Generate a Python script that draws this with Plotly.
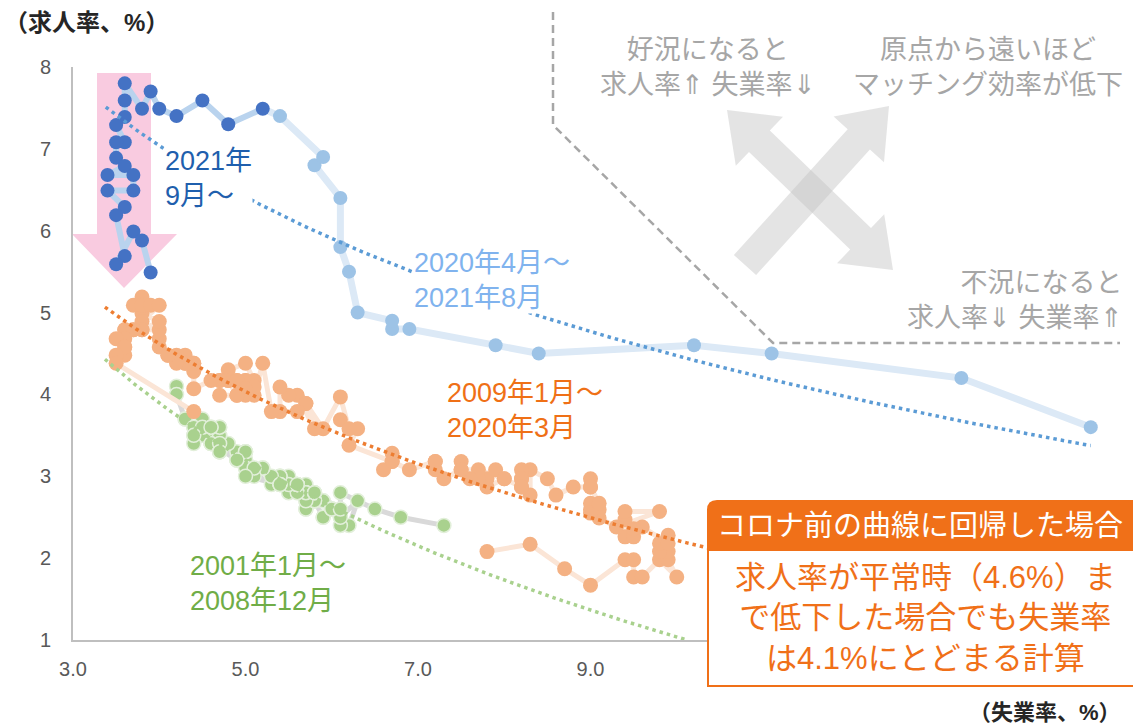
import numpy as np
import plotly.graph_objects as go

# ---------------- data: unemployment rate (x) vs job openings rate (y), % ----------------
# 2001/1 - 2008/12
green_x = [4.2, 4.2, 4.3, 4.4, 4.3, 4.5, 4.6, 4.9, 5.0, 5.3, 5.5, 5.7,
           5.7, 5.7, 5.7, 5.9, 5.8, 5.8, 5.8, 5.7, 5.7, 5.7, 5.9, 6.0,
           5.8, 5.9, 5.9, 6.0, 6.1, 6.3, 6.2, 6.1, 6.1, 6.0, 5.8, 5.7,
           5.7, 5.6, 5.8, 5.6, 5.6, 5.6, 5.5, 5.4, 5.4, 5.5, 5.4, 5.4,
           5.3, 5.4, 5.2, 5.2, 5.1, 5.0, 5.0, 4.9, 5.0, 5.0, 5.0, 4.9,
           4.7, 4.8, 4.7, 4.7, 4.6, 4.6, 4.7, 4.7, 4.5, 4.4, 4.5, 4.4,
           4.6, 4.5, 4.4, 4.5, 4.4, 4.6, 4.7, 4.6, 4.7, 4.7, 4.7, 5.0,
           5.0, 4.9, 5.1, 5.0, 5.4, 5.6, 5.8, 6.1, 6.1, 6.5, 6.8, 7.3]
green_y = [4.1, 4.0, 3.7, 3.6, 3.7, 3.5, 3.4, 3.2, 3.1, 2.9, 2.8, 2.8,
           2.9, 2.8, 2.7, 2.7, 2.8, 2.7, 2.7, 2.6, 2.8, 2.6, 2.7, 2.6,
           2.7, 2.5, 2.5, 2.6, 2.5, 2.7, 2.4, 2.4, 2.5, 2.6, 2.7, 2.7,
           2.8, 2.8, 2.8, 2.9, 2.9, 2.9, 3.0, 3.0, 2.9, 2.9, 3.0, 3.0,
           3.0, 2.9, 3.1, 3.1, 3.0, 3.2, 3.2, 3.2, 3.3, 3.2, 3.1, 3.3,
           3.3, 3.4, 3.5, 3.6, 3.5, 3.4, 3.5, 3.6, 3.5, 3.5, 3.7, 3.6,
           3.6, 3.5, 3.4, 3.6, 3.5, 3.4, 3.3, 3.6, 3.3, 3.4, 3.3, 3.3,
           3.3, 3.2, 3.1, 3.0, 2.9, 2.9, 2.8, 2.6, 2.8, 2.6, 2.5, 2.4]

# 2009/1 - 2020/3
orange_x = [7.8, 8.3, 8.7, 9.0, 9.4, 9.5, 9.5, 9.6, 9.8, 10.0, 9.9, 9.9,
            9.8, 9.8, 9.9, 9.9, 9.6, 9.4, 9.4, 9.5, 9.5, 9.4, 9.8, 9.3,
            9.1, 9.0, 9.0, 9.1, 9.0, 9.1, 9.0, 9.0, 9.0, 8.8, 8.6, 8.5,
            8.3, 8.3, 8.2, 8.2, 8.2, 8.2, 8.2, 8.0, 7.8, 7.8, 7.7, 7.9,
            8.0, 7.7, 7.5, 7.6, 7.5, 7.5, 7.3, 7.2, 7.2, 7.2, 6.9, 6.7,
            6.6, 6.7, 6.7, 6.2, 6.3, 6.1, 6.2, 6.1, 5.9, 5.7, 5.8, 5.6,
            5.7, 5.5, 5.4, 5.4, 5.6, 5.3, 5.2, 5.1, 5.0, 5.0, 5.1, 5.0,
            4.8, 4.9, 5.0, 5.1, 4.8, 4.9, 4.8, 4.9, 5.0, 4.9, 4.7, 4.7,
            4.7, 4.6, 4.4, 4.4, 4.4, 4.3, 4.3, 4.4, 4.3, 4.2, 4.2, 4.1,
            4.0, 4.1, 4.0, 4.0, 3.8, 4.0, 3.8, 3.8, 3.7, 3.8, 3.8, 3.9,
            4.0, 3.8, 3.8, 3.7, 3.6, 3.6, 3.7, 3.6, 3.5, 3.6, 3.6, 3.6,
            3.5, 3.5, 4.4]
orange_y = [2.08, 2.17, 1.87, 1.67, 1.98, 1.98, 1.77, 1.77, 1.98, 1.77, 1.98, 2.08,
            2.08, 2.18, 2.28, 2.18, 2.38, 2.26, 2.47, 2.26, 2.36, 2.57, 2.57, 2.38,
            2.49, 2.59, 2.67, 2.59, 2.55, 2.67, 2.87, 2.97, 2.87, 2.87, 2.77, 2.97,
            3.08, 2.77, 2.97, 3.08, 2.87, 2.97, 2.87, 2.97, 2.87, 2.97, 2.97, 3.08,
            2.97, 3.08, 3.08, 2.97, 3.18, 3.08, 2.97, 3.18, 3.08, 3.18, 3.08, 3.18,
            3.08, 3.28, 3.18, 3.38, 3.58, 3.69, 3.58, 3.97, 3.58, 3.89, 3.58, 3.99,
            3.89, 3.99, 4.09, 3.79, 3.79, 3.79, 4.38, 3.99, 3.99, 4.17, 4.17, 4.38,
            4.30, 4.17, 4.17, 4.09, 4.17, 3.99, 4.17, 4.17, 4.07, 3.99, 3.99, 4.17,
            4.17, 4.17, 4.07, 4.28, 4.38, 4.38, 4.48, 4.38, 4.38, 4.48, 4.38, 4.48,
            4.58, 4.48, 4.68, 4.79, 4.79, 4.89, 4.99, 5.09, 5.09, 5.19, 5.09, 5.09,
            5.09, 4.89, 4.79, 4.79, 4.79, 4.79, 4.79, 4.68, 4.68, 4.48, 4.58, 4.58,
            4.48, 4.38, 3.79]

# 2020/4 - 2021/8
covid_x = [14.8, 13.3, 11.1, 10.2, 8.4, 7.9, 6.9, 6.7, 6.7, 6.3, 6.2, 6.1, 6.1, 5.8, 5.9, 5.4]
covid_y = [3.6, 4.2, 4.5, 4.6, 4.5, 4.6, 4.8, 4.8, 4.9, 5.0, 5.5, 5.8, 6.4, 6.8, 6.9, 7.4]

# 2021/9 onward
recent_x = [5.2, 4.8, 4.5, 4.2, 4.0, 3.9, 3.8, 3.6, 3.6, 3.6, 3.5, 3.6, 3.5,
            3.5, 3.6, 3.4, 3.7, 3.7, 3.4, 3.6, 3.5, 3.6, 3.5, 3.7, 3.8, 3.9]
recent_y = [7.49, 7.30, 7.59, 7.40, 7.49, 7.70, 7.49, 7.80, 7.59, 7.39, 7.29, 7.08, 7.08,
            6.89, 6.79, 6.68, 6.68, 6.49, 6.49, 6.29, 6.19, 5.69, 5.59, 5.99, 5.88, 5.49]

# logarithmic trend lines: y = a + b * ln(x), drawn over [x0, x1]
fit_2001 = dict(a=8.22, b=-3.12, x0=3.37, x1=10.12)
fit_2009 = dict(a=8.25, b=-2.62, x0=3.37, x1=10.6)
fit_2020 = dict(a=10.92, b=-2.80, x0=3.38, x1=14.8)

x_ticks = [3, 5, 7, 9]
x_ticktext = ["3.0", "5.0", "7.0", "9.0"]
y_ticks = [1, 2, 3, 4, 5, 6, 7, 8]

# ---------------- layout geometry ----------------
W, H = 1133, 727
ML, MR, MT, MB = 73, 25, 67, 87
PW, PH = W - ML - MR, H - MT - MB


def px(x):
    """page pixel column -> paper x"""
    return (x - ML) / PW


def py(y):
    """page pixel row -> paper y"""
    return (H - MB - y) / PH


def path_of(points, close=True):
    s = "M " + " L ".join(f"{px(x):.5f},{py(y):.5f}" for x, y in points)
    return s + (" Z" if close else "")


def arrow_points(p0, p1, w, hw, hl, head0, head1):
    p0 = np.array(p0, float)
    p1 = np.array(p1, float)
    d = (p1 - p0) / np.linalg.norm(p1 - p0)
    n = np.array([-d[1], d[0]])
    b0 = p0 + d * hl
    b1 = p1 - d * hl
    pts = []
    if head0:
        pts += [p0, b0 + n * hw, b0 + n * w]
    else:
        pts += [p0 + n * w]
    if head1:
        pts += [b1 + n * w, b1 + n * hw, p1, b1 - n * hw, b1 - n * w]
    else:
        pts += [p1 + n * w, p1 - n * w]
    if head0:
        pts += [b0 - n * w, b0 - n * hw]
    else:
        pts += [p0 - n * w]
    return [tuple(p) for p in pts]


FONT = "Liberation Sans, Arial, Noto Sans CJK JP, sans-serif"

fig = go.Figure()

# connecting lines and points
fig.add_trace(go.Scatter(x=green_x, y=green_y, mode="lines",
                         line=dict(color="#d9d9d9", width=5)))
fig.add_trace(go.Scatter(x=green_x, y=green_y, mode="markers",
                         marker=dict(size=14, color="#a9d18e",
                                     line=dict(color="#e2efda", width=1.5))))
fig.add_trace(go.Scatter(x=orange_x, y=orange_y, mode="lines",
                         line=dict(color="#fbe5d6", width=5)))
fig.add_trace(go.Scatter(x=orange_x, y=orange_y, mode="markers",
                         marker=dict(size=15, color="#f4b183")))
fig.add_trace(go.Scatter(x=covid_x + recent_x[:1], y=covid_y + recent_y[:1], mode="lines",
                         line=dict(color="#dce9f6", width=7)))
fig.add_trace(go.Scatter(x=recent_x, y=recent_y, mode="lines",
                         line=dict(color="#b9d3ee", width=6)))
fig.add_trace(go.Scatter(x=covid_x, y=covid_y, mode="markers",
                         marker=dict(size=14, color="#9dc3e6")))
fig.add_trace(go.Scatter(x=recent_x, y=recent_y, mode="markers",
                         marker=dict(size=14, color="#4472c4")))

# trend lines
for fit, color in [(fit_2001, "#a9d18e"), (fit_2009, "#ed7d31"), (fit_2020, "#5b9bd5")]:
    tx = np.linspace(fit["x0"], fit["x1"], 200)
    ty = fit["a"] + fit["b"] * np.log(tx)
    fig.add_trace(go.Scatter(x=tx, y=ty, mode="lines",
                             line=dict(color=color, width=3.5, dash="3.5px,4px")))

shapes = []
# pink downward arrow
shapes.append(dict(type="path", xref="paper", yref="paper", layer="below",
                   path=path_of([(97, 73), (151, 73), (151, 234), (177, 234),
                                 (124, 288), (72, 234), (97, 234)]),
                   fillcolor="#f9cbe0", line=dict(width=0)))
# gray crossing arrows
for pts in [arrow_points((727, 110), (893, 270), 15, 34, 45, True, True),
            arrow_points((745, 265), (889, 106), 15, 34, 45, False, True)]:
    shapes.append(dict(type="path", xref="paper", yref="paper", layer="below",
                       path=path_of(pts), fillcolor="rgba(195,195,195,0.45)",
                       line=dict(width=0)))
# dashed boundary
shapes.append(dict(type="path", xref="paper", yref="paper", layer="below",
                   path=path_of([(553, 12), (553, 125), (773, 343), (1120, 343)], close=False),
                   line=dict(color="#a6a6a6", width=2.5, dash="8px,5px")))
# callout box
shapes.append(dict(type="rect", xref="paper", yref="paper", layer="above",
                   x0=px(708), x1=px(1145), y0=py(686), y1=py(549),
                   fillcolor="white", line=dict(color="#f07018", width=2)))
hdr = (f"M {px(707):.5f},{py(551):.5f} L {px(707):.5f},{py(510):.5f} "
       f"Q {px(707):.5f},{py(500):.5f} {px(717):.5f},{py(500):.5f} "
       f"L {px(1145):.5f},{py(500):.5f} L {px(1145):.5f},{py(551):.5f} Z")
shapes.append(dict(type="path", xref="paper", yref="paper", layer="above",
                   path=hdr, fillcolor="#f07018", line=dict(width=0)))

annotations = []


def note(text, x, y, size, color, xanchor="left", align="left", bg=None, bold=False):
    if bold:
        text = f"<b>{text}</b>"
    annotations.append(dict(text=text, x=px(x), y=py(y), xref="paper", yref="paper",
                            xanchor=xanchor, yanchor="middle", align=align,
                            showarrow=False, bgcolor=bg, borderpad=0,
                            font=dict(family=FONT, size=size, color=color)))


note("（求人率、%）", 3, 22, 24, "#262626", bold=True)
note("（失業率、%）", 1122, 712, 22, "#262626", xanchor="right", bold=True)

note("2021年<br>9月～", 164, 178, 27, "#1f5fad", bg="white")
note("2020年4月～<br>2021年8月", 413, 280, 27, "#80b3ee", bg="white")
note("2009年1月～<br>2020年3月", 446, 410, 27, "#ef7016")
note("2001年1月～<br>2008年12月", 189, 583, 27, "#70ad47")

note("好況になると<br>求人率⇑ 失業率⇓", 708, 67, 27, "#a6a6a6", xanchor="center", align="center")
note("原点から遠いほど<br>マッチング効率が低下", 988, 67, 27, "#a6a6a6", xanchor="center", align="center")
note("不況になると<br>求人率⇓ 失業率⇑", 1124, 300, 27, "#a6a6a6", xanchor="right", align="right")

note("コロナ前の曲線に回帰した場合", 920, 526, 29, "white", xanchor="center", align="center")
note("求人率が平常時（4.6%）ま<br>で低下した場合でも失業率<br>は4.1%にとどまる計算",
     925, 618, 31, "#f07018", xanchor="center", align="center")

fig.update_layout(
    width=W, height=H,
    margin=dict(l=ML, r=MR, t=MT, b=MB),
    paper_bgcolor="white", plot_bgcolor="white",
    showlegend=False,
    font=dict(family=FONT),
    shapes=shapes,
    annotations=annotations,
    xaxis=dict(range=[3, 15], tickvals=x_ticks, ticktext=x_ticktext,
               showgrid=False, zeroline=False, showline=True,
               linecolor="#bfbfbf", linewidth=2, ticks="",
               tickfont=dict(family=FONT, size=20, color="#595959"),
               ticklabelstandoff=10),
    yaxis=dict(range=[1, 8], tickvals=y_ticks,
               showgrid=False, zeroline=False, showline=True,
               linecolor="#bfbfbf", linewidth=2, ticks="",
               tickfont=dict(family=FONT, size=20, color="#595959"),
               ticklabelstandoff=16),
)

fig.write_html("out.html")
